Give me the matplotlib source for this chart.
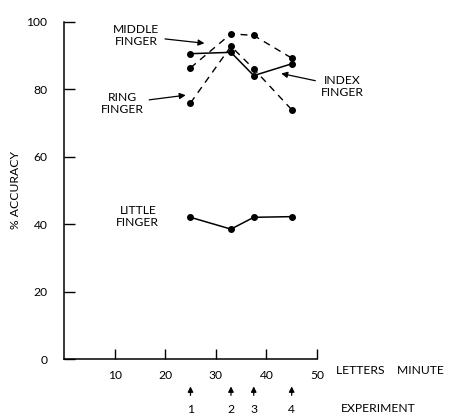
import matplotlib
matplotlib.use("Agg")
import matplotlib.pyplot as plt

plt.rcParams['font.family'] = ['Lato', 'DejaVu Sans']

speeds = [25, 33, 37.5, 45]
experiments = ["1", "2", "3", "4"]
index_finger = [90.5, 90.9, 84.0, 87.5]
middle_finger = [86.3, 96.4, 95.9, 89.2]
ring_finger = [75.9, 92.7, 86.0, 73.9]
little_finger = [42.0, 38.5, 42.0, 42.2]
x_ticks = [10, 20, 30, 40, 50]
y_ticks = [0, 20, 40, 60, 80, 100]

fig = plt.figure(figsize=(4.5, 4.16), dpi=100)
ax = fig.add_axes([0.1422, 0.137, 0.5622, 0.811])
ax.set_xlim(0, 50)
ax.set_ylim(0, 100)
for s in ['top', 'right']:
    ax.spines[s].set_visible(False)
for s in ['left', 'bottom']:
    ax.spines[s].set_linewidth(1.1)

fs = 8.7
dash = (0, (5, 4))
ax.plot(speeds, index_finger, '-', color='black', lw=1.1, marker='o', ms=4, clip_on=False)
ax.plot(speeds, little_finger, '-', color='black', lw=1.1, marker='o', ms=4, clip_on=False)
ax.plot(speeds, middle_finger, linestyle=dash, color='black', lw=1.0, marker='o', ms=4, clip_on=False)
ax.plot(speeds, ring_finger, linestyle=dash, color='black', lw=1.0, marker='o', ms=4, clip_on=False)

ax.set_xticks(x_ticks)
ax.set_yticks(y_ticks)
ax.tick_params(axis='x', direction='in', length=7, width=1, pad=8, labelsize=fs)
ax.tick_params(axis='y', direction='in', length=8, width=1, pad=12, labelsize=fs)
ax.set_ylabel('% ACCURACY', fontsize=fs, labelpad=4)

arrowprops = dict(arrowstyle='-|>', color='black', lw=0.9, mutation_scale=9)
ax.annotate('MIDDLE\nFINGER', xy=(28.3, 93.5), xytext=(14.3, 95.8), ha='center', va='center',
            fontsize=fs, linespacing=1.1, arrowprops=arrowprops)
ax.annotate('RING\nFINGER', xy=(24.6, 78.3), xytext=(11.5, 75.8), ha='center', va='center',
            fontsize=fs, linespacing=1.1, arrowprops=arrowprops)
ax.annotate('INDEX\nFINGER', xy=(42.4, 84.8), xytext=(55.0, 80.8), ha='center', va='center',
            fontsize=fs, linespacing=1.1, arrowprops=arrowprops, annotation_clip=False)
ax.text(14.6, 42.2, 'LITTLE\nFINGER', ha='center', va='center', fontsize=fs, linespacing=1.1)

ax.text(53.7, -3.4, 'LETTERS    MINUTE', ha='left', va='center', fontsize=fs, clip_on=False)
for x, lab in zip(speeds, experiments):
    ax.annotate('', xy=(x, -7.3), xytext=(x, -11.6), annotation_clip=False,
                arrowprops=dict(arrowstyle='-|>', color='black', lw=0.9, mutation_scale=8))
    ax.text(x, -15.1, lab, ha='center', va='center', fontsize=fs, clip_on=False)
ax.text(54.7, -14.8, 'EXPERIMENT', ha='left', va='center', fontsize=fs, clip_on=False)

fig.savefig('out.png', dpi=100)
